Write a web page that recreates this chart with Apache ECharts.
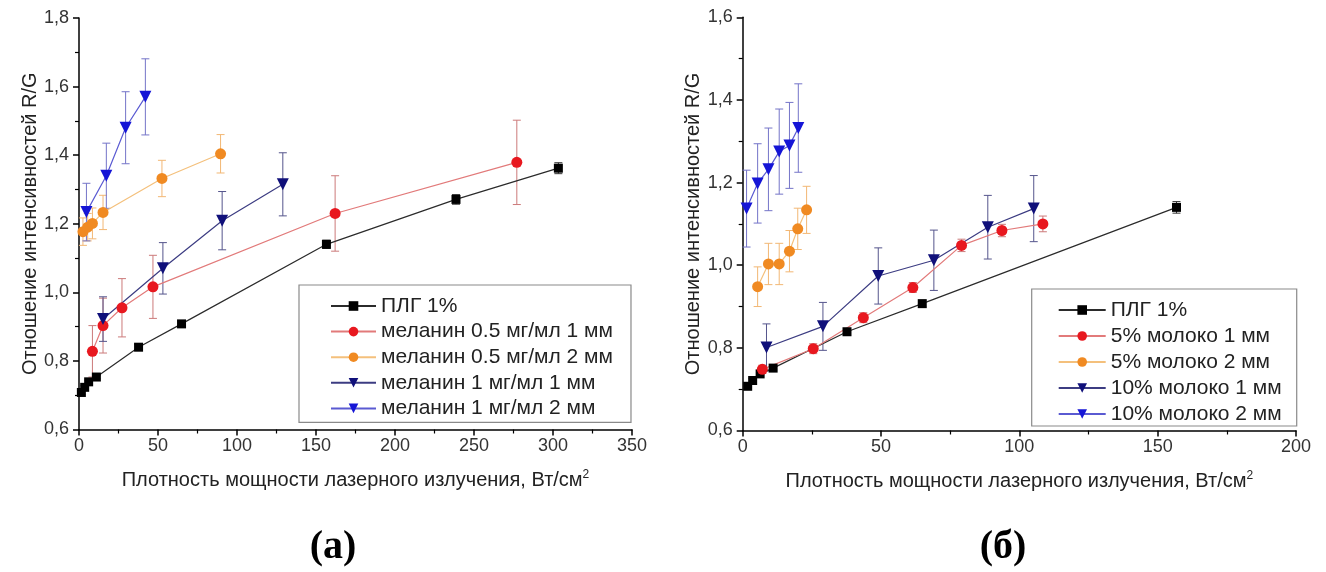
<!DOCTYPE html>
<html>
<head>
<meta charset="utf-8">
<script src="https://cdn.jsdelivr.net/npm/echarts@6/dist/echarts.min.js"></script>
<style>
  html, body { margin: 0; padding: 0; background: #fff; }
  #chart { width: 1326px; height: 572px; }
</style>
</head>
<body>
<div id="chart"></div>
<script>
// ---- Panel (а): melanin samples ----
const plgX = [1.5, 3.6, 6.1, 11, 37.7, 64.9, 156.6, 238.6, 303.4];
const plgY = [0.708, 0.723, 0.739, 0.753, 0.840, 0.908, 1.140, 1.271, 1.362];
const plgErr = [0.005, 0.005, 0.005, 0.005, 0.008, 0.008, 0.012, 0.014, 0.016];

const mel05mm1X = [8.5, 15.2, 27.2, 46.8, 162.1, 277.1];
const mel05mm1Y = [0.828, 0.903, 0.955, 1.016, 1.230, 1.379];
const mel05mm1Err = [0.075, 0.08, 0.085, 0.092, 0.11, 0.123];

const mel05mm2X = [2.5, 5.5, 8.5, 15.2, 52.5, 89.6];
const mel05mm2Y = [1.177, 1.19, 1.201, 1.233, 1.332, 1.404];
const mel05mm2Err = [0.04, 0.04, 0.045, 0.05, 0.053, 0.056];

const mel1mm1X = [15.2, 53.1, 90.6, 129];
const mel1mm1Y = [0.922, 1.070, 1.209, 1.315];
const mel1mm1Err = [0.065, 0.075, 0.085, 0.092];

const mel1mm2X = [4.7, 17.3, 29.5, 42];
const mel1mm2Y = [1.234, 1.340, 1.480, 1.570];
const mel1mm2Err = [0.084, 0.095, 0.105, 0.111];

// ---- Panel (б): milk samples ----
const plg2X = [1.8, 3.6, 6.3, 11, 37.7, 64.9, 156.8];
const plg2Y = [0.707, 0.721, 0.737, 0.751, 0.839, 0.907, 1.140];
const plg2Err = [0.005, 0.005, 0.005, 0.005, 0.008, 0.008, 0.014];

const milk5mm1X = [7.1, 25.5, 43.6, 61.5, 79.1, 93.7, 108.5];
const milk5mm1Y = [0.748, 0.798, 0.873, 0.946, 1.048, 1.084, 1.100];
const milk5mm1Err = [0.01, 0.012, 0.012, 0.012, 0.015, 0.015, 0.019];

const milk5mm2X = [5.4, 9.3, 13.2, 16.9, 19.9, 23.1];
const milk5mm2Y = [0.948, 1.003, 1.003, 1.034, 1.088, 1.134];
const milk5mm2Err = [0.048, 0.05, 0.05, 0.05, 0.05, 0.057];

const milk10mm1X = [8.6, 29.0, 49.0, 69.1, 88.6, 105.2];
const milk10mm1Y = [0.801, 0.852, 0.974, 1.012, 1.092, 1.137];
const milk10mm1Err = [0.057, 0.058, 0.068, 0.073, 0.077, 0.08];

const milk10mm2X = [1.4, 5.4, 9.3, 13.2, 16.9, 20.1];
const milk10mm2Y = [1.137, 1.198, 1.232, 1.275, 1.290, 1.332];
const milk10mm2Err = [0.093, 0.096, 0.1, 0.103, 0.104, 0.107];

const xTitle = 'Плотность мощности лазерного излучения, Вт/см{sup|2}';
const yTitle = 'Отношение интенсивностей R/G';
const FONT = '"Liberation Sans", Arial, sans-serif';

// marker + line styles per sample type
const STY = {
  plg:   { symbol: 'rect',     size: 9,  rot: 0,   mark: '#000000', line: '#2b2b2b', err: '#333333' },
  red:   { symbol: 'circle',   size: 11, rot: 0,   mark: '#e8181f', line: '#e27a7a', err: '#cc7a7a' },
  orng:  { symbol: 'circle',   size: 11, rot: 0,   mark: '#f08a22', line: '#f4c07c', err: '#f2b774' },
  navy:  { symbol: 'triangle', size: 12, rot: 180, mark: '#10107a', line: '#3c3c82', err: '#55558c' },
  blue:  { symbol: 'triangle', size: 12, rot: 180, mark: '#1515d6', line: '#5a5ad2', err: '#7474c8' }
};

function pairs(xs, ys) { return xs.map((v, i) => [v, ys[i]]); }
function triples(xs, ys, es) { return xs.map((v, i) => [v, ys[i], es[i]]); }

function lineSeries(name, xs, ys, st, gi) {
  return {
    type: 'line', name: name, xAxisIndex: gi, yAxisIndex: gi,
    data: pairs(xs, ys),
    symbol: st.symbol, symbolSize: st.size, symbolRotate: st.rot,
    itemStyle: { color: st.mark },
    lineStyle: { color: st.line, width: 1.2 },
    z: 5, animation: false
  };
}

// vertical error bar with short caps, placed through the axis scales
function errSeries(name, xs, ys, es, st, gi) {
  return {
    type: 'custom', name: name + ' ±', xAxisIndex: gi, yAxisIndex: gi,
    data: triples(xs, ys, es),
    encode: { x: 0, y: 1 },
    z: 3, animation: false, silent: true,
    renderItem: function (params, api) {
      const x = api.value(0), y = api.value(1), e = api.value(2);
      const top = api.coord([x, y + e]);
      const bot = api.coord([x, y - e]);
      const w = 4;
      const s = { stroke: st.err, lineWidth: 1 };
      return {
        type: 'group',
        children: [
          { type: 'line', shape: { x1: top[0], y1: top[1], x2: bot[0], y2: bot[1] }, style: s },
          { type: 'line', shape: { x1: top[0] - w, y1: top[1], x2: top[0] + w, y2: top[1] }, style: s },
          { type: 'line', shape: { x1: bot[0] - w, y1: bot[1], x2: bot[0] + w, y2: bot[1] }, style: s }
        ]
      };
    }
  };
}

const leftSets = [
  ['ПЛГ 1%', plgX, plgY, plgErr, STY.plg],
  ['меланин 0.5 мг/мл 1 мм', mel05mm1X, mel05mm1Y, mel05mm1Err, STY.red],
  ['меланин 0.5 мг/мл 2 мм', mel05mm2X, mel05mm2Y, mel05mm2Err, STY.orng],
  ['меланин 1 мг/мл 1 мм', mel1mm1X, mel1mm1Y, mel1mm1Err, STY.navy],
  ['меланин 1 мг/мл 2 мм', mel1mm2X, mel1mm2Y, mel1mm2Err, STY.blue]
];
const rightSets = [
  ['ПЛГ 1%', plg2X, plg2Y, plg2Err, STY.plg],
  ['5% молоко 1 мм', milk5mm1X, milk5mm1Y, milk5mm1Err, STY.red],
  ['5% молоко 2 мм', milk5mm2X, milk5mm2Y, milk5mm2Err, STY.orng],
  ['10% молоко 1 мм', milk10mm1X, milk10mm1Y, milk10mm1Err, STY.navy],
  ['10% молоко 2 мм', milk10mm2X, milk10mm2Y, milk10mm2Err, STY.blue]
];

const series = [];
[leftSets, rightSets].forEach((sets, gi) => {
  sets.forEach(s => {
    series.push(errSeries(s[0], s[1], s[2], s[3], s[4], gi));
    series.push(lineSeries(s[0], s[1], s[2], s[4], gi));
  });
});

function xAxis(gi, max) {
  return {
    type: 'value', gridIndex: gi, min: 0, max: max, interval: 50,
    name: xTitle, nameLocation: 'middle', nameGap: 39,
    nameTextStyle: {
      fontFamily: FONT, fontSize: 20, color: '#222',
      rich: { sup: { fontFamily: FONT, fontSize: 12, verticalAlign: 'top', padding: [0, 0, 12, 0], color: '#222' } }
    },
    axisLine: { lineStyle: { color: '#000', width: 1.5 } },
    axisTick: { inside: false, length: 6, lineStyle: { color: '#000', width: 1.5 } },
    minorTick: { show: true, splitNumber: 2, length: 4, lineStyle: { color: '#000', width: 1.2 } },
    axisLabel: { fontFamily: FONT, fontSize: 18, color: '#333', margin: 8 },
    splitLine: { show: false }
  };
}
function yAxis(gi, max, gap) {
  return {
    type: 'value', gridIndex: gi, min: 0.6, max: max, interval: 0.2,
    name: yTitle, nameLocation: 'middle', nameGap: gap, nameRotate: 90,
    nameTextStyle: { fontFamily: FONT, fontSize: 20, color: '#222' },
    axisLine: { show: true, lineStyle: { color: '#000', width: 1.5 } },
    axisTick: { show: true, inside: false, length: 6, lineStyle: { color: '#000', width: 1.5 } },
    minorTick: { show: true, splitNumber: 2, length: 4, lineStyle: { color: '#000', width: 1.2 } },
    axisLabel: {
      fontFamily: FONT, fontSize: 18, color: '#333', margin: 10,
      formatter: v => v.toFixed(1).replace('.', ',')
    },
    splitLine: { show: false }
  };
}

function legend(names, left, top, pad, itemW, gap) {
  return {
    data: names, orient: 'vertical', left: left, top: top,
    padding: pad, itemGap: gap, itemWidth: itemW, itemHeight: 12,
    borderColor: '#8a8a8a', borderWidth: 1.2, backgroundColor: '#fff',
    textStyle: { fontFamily: FONT, fontSize: 21, color: '#222', lineHeight: 22 },
    selectedMode: false
  };
}

const chart = echarts.init(document.getElementById('chart'), null, { renderer: 'canvas' });
chart.setOption({
  backgroundColor: '#ffffff',
  animation: false,
  grid: [
    { left: 79, top: 18, right: 694, bottom: 142.5 },
    { left: 742.7, top: 17.3, right: 30, bottom: 141.5 }
  ],
  xAxis: [xAxis(0, 350), xAxis(1, 200)],
  yAxis: [yAxis(0, 1.8, 39), yAxis(1, 1.6, 35)],
  legend: [
    legend(leftSets.map(s => s[0]), 299, 285, [10, 18, 3, 31], 45, 3.6),
    legend(rightSets.map(s => s[0]), 1031.7, 289, [10, 15, 1, 26], 47, 4)
  ],
  graphic: [
    { type: 'text', x: 333, y: 548, style: { text: '(а)', fontFamily: '"Liberation Serif", "DejaVu Serif", serif', fontWeight: 'bold', fontSize: 40, fill: '#000', align: 'center', verticalAlign: 'middle' } },
    { type: 'text', x: 1003, y: 548, style: { text: '(б)', fontFamily: '"Liberation Serif", "DejaVu Serif", serif', fontWeight: 'bold', fontSize: 40, fill: '#000', align: 'center', verticalAlign: 'middle' } }
  ],
  series: series
});
</script>
</body>
</html>
